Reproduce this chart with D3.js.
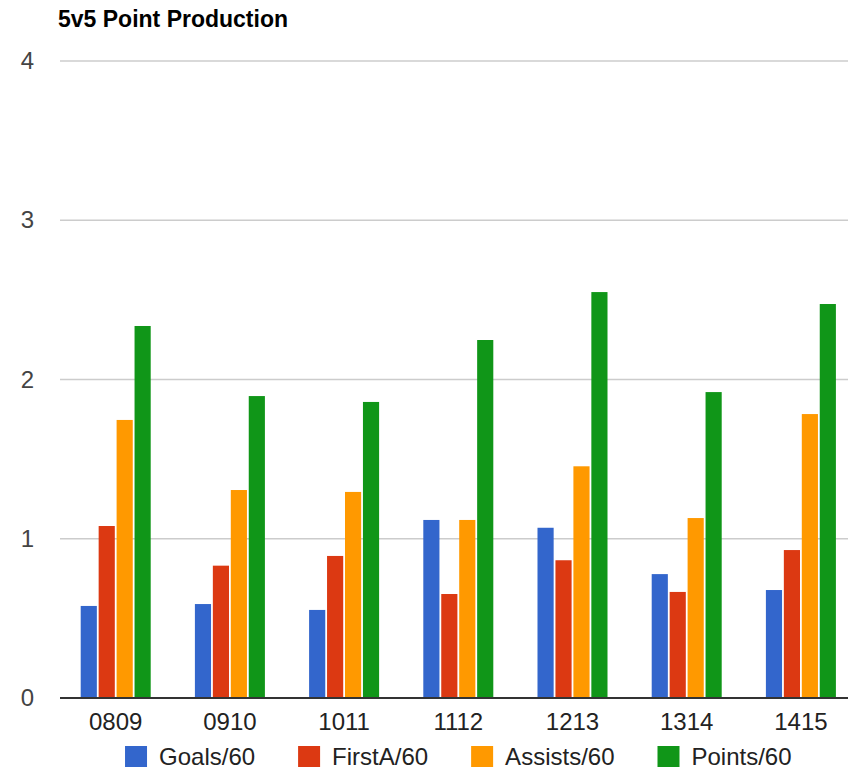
<!DOCTYPE html>
<html>
<head>
<meta charset="utf-8">
<script src="https://cdn.jsdelivr.net/npm/d3@7"></script>
<style>
  html, body { margin: 0; padding: 0; background: #fff; }
  svg { display: block; font-family: Arial, "Liberation Sans", sans-serif; }
</style>
</head>
<body>
<svg id="chart" width="848" height="770"></svg>
<script>
// ---- data ----
const title = "5v5 Point Production";
const seasons = ["0809", "0910", "1011", "1112", "1213", "1314", "1415"];
const seriesNames = ["Goals/60", "FirstA/60", "Assists/60", "Points/60"];
const goals   = [0.578, 0.590, 0.553, 1.118, 1.069, 0.778, 0.678];
const firstA  = [1.080, 0.831, 0.892, 0.653, 0.865, 0.666, 0.929];
const assists = [1.746, 1.306, 1.294, 1.118, 1.455, 1.130, 1.783];
const points  = [2.336, 1.896, 1.859, 2.248, 2.549, 1.921, 2.474];
const yTicks  = [0, 1, 2, 3, 4];
const colors  = ["#3366cc", "#dc3912", "#ff9900", "#109618"];

const seriesValues = [goals, firstA, assists, points];
const rows = seasons.map((s, i) => ({
  season: s,
  values: seriesNames.map((n, k) => ({ name: n, value: seriesValues[k][i], color: colors[k] }))
}));

// ---- layout ----
const svg = d3.select("#chart");
const W = 848;
const plotLeft = 58.6, plotRight = 858, plotTop = 61, plotBottom = 698;

const x = d3.scaleBand().domain(seasons).range([plotLeft, plotRight])
  .paddingInner(0.387).paddingOuter(0.1935);
const xSub = d3.scaleBand().domain(seriesNames).range([0, x.bandwidth()])
  .paddingInner(0.1).paddingOuter(0);
const y = d3.scaleLinear().domain([0, 4]).range([plotBottom, plotTop]);

// title
svg.append("text")
  .attr("x", 58).attr("y", 27)
  .attr("font-size", 23).attr("font-weight", "bold").attr("fill", "#000")
  .text(title);

// gridlines
svg.append("g").selectAll("line").data(yTicks.filter(t => t !== 0)).join("line")
  .attr("x1", 60).attr("x2", W)
  .attr("y1", d => y(d)).attr("y2", d => y(d))
  .attr("stroke", "#cccccc").attr("stroke-width", 1.6);

// y axis labels
const yAxis = svg.append("g").attr("transform", "translate(60,0)")
  .call(d3.axisLeft(y).tickValues(yTicks).tickFormat(d3.format("d")).tickSize(0).tickPadding(26));
yAxis.select(".domain").remove();
yAxis.selectAll("text").attr("font-size", 24).attr("fill", "#444")
  .attr("font-family", "Arial, 'Liberation Sans', sans-serif");

// bars
const groups = svg.append("g").selectAll("g").data(rows).join("g")
  .attr("transform", d => `translate(${x(d.season)},0)`);
groups.selectAll("rect").data(d => d.values).join("rect")
  .attr("x", d => xSub(d.name))
  .attr("width", xSub.bandwidth())
  .attr("y", d => y(d.value))
  .attr("height", d => y(0) - y(d.value))
  .attr("fill", d => d.color);

// baseline
svg.append("line")
  .attr("x1", 60).attr("x2", W)
  .attr("y1", y(0)).attr("y2", y(0))
  .attr("stroke", "#333").attr("stroke-width", 2);

// x axis labels
const xAxis = svg.append("g").attr("transform", `translate(0,${plotBottom})`)
  .call(d3.axisBottom(x).tickSize(0).tickPadding(15));
xAxis.select(".domain").remove();
xAxis.selectAll("text").attr("font-size", 24).attr("fill", "#222")
  .attr("font-family", "Arial, 'Liberation Sans', sans-serif");

// legend
const legend = svg.append("g");
const items = legend.selectAll("g").data(seriesNames).join("g");
items.append("rect")
  .attr("x", 0).attr("y", 746).attr("width", 22).attr("height", 21)
  .attr("fill", (d, i) => colors[i]);
items.append("text")
  .attr("x", 34).attr("y", 765)
  .attr("font-size", 24).attr("fill", "#222")
  .text(d => d);
let cx = 0;
const gap = 43;
items.each(function() {
  const g = d3.select(this);
  g.attr("transform", `translate(${cx},0)`);
  cx += 34 + g.select("text").node().getComputedTextLength() + gap;
});
const totalW = cx - gap;
const center = (plotLeft + plotRight) / 2;
legend.attr("transform", `translate(${center - totalW / 2},0)`);
</script>
</body>
</html>
